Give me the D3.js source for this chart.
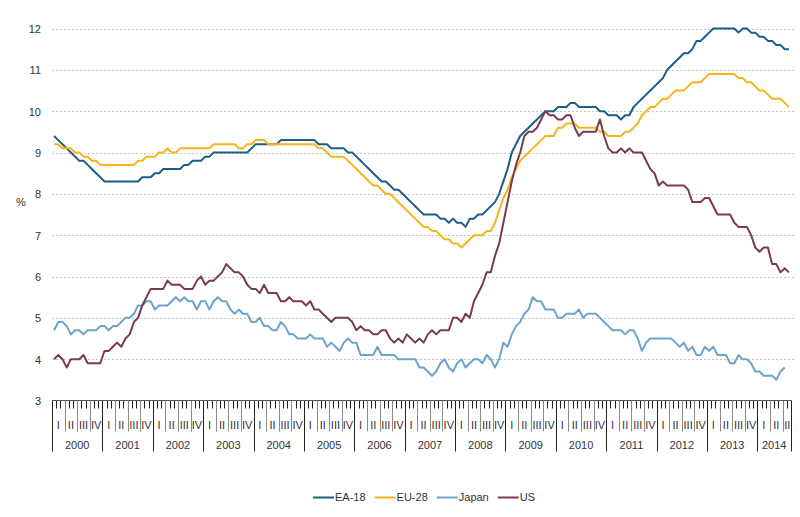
<!DOCTYPE html>
<html>
<head>
<meta charset="utf-8">
<script src="https://cdnjs.cloudflare.com/ajax/libs/d3/7.8.5/d3.min.js"></script>
<style>
  body { margin: 0; background: #fff; }
  svg { font-family: "Liberation Sans", Arial, sans-serif; }
  .grid line { stroke: #c4c4c4; stroke-dasharray: 2,2; }
  .axisLabel { font-size: 11px; fill: #333; }
  .series { fill: none; stroke-width: 2; stroke-linejoin: round; }
</style>
</head>
<body>
<script>

// Monthly unemployment rates, seasonally adjusted, Jan 2000 onwards (%)
var years = ["2000","2001","2002","2003","2004","2005","2006","2007","2008","2009","2010","2011","2012","2013","2014"];
var quarters = ["I","II","III","IV"];
var monthsShown = 176; // Jan 2000 - Aug 2014

var ea18 = [
  9.4,9.3,9.2,9.1,9.0,8.9,8.8,8.8,8.7,8.6,8.5,8.4,
  8.3,8.3,8.3,8.3,8.3,8.3,8.3,8.3,8.3,8.4,8.4,8.4,
  8.5,8.5,8.6,8.6,8.6,8.6,8.6,8.7,8.7,8.8,8.8,8.8,
  8.9,8.9,9.0,9.0,9.0,9.0,9.0,9.0,9.0,9.0,9.0,9.1,
  9.2,9.2,9.2,9.2,9.2,9.2,9.3,9.3,9.3,9.3,9.3,9.3,
  9.3,9.3,9.3,9.2,9.2,9.2,9.1,9.1,9.1,9.1,9.0,9.0,
  8.9,8.8,8.7,8.6,8.5,8.4,8.3,8.3,8.2,8.1,8.1,8.0,
  7.9,7.8,7.7,7.6,7.5,7.5,7.5,7.5,7.4,7.4,7.3,7.4,
  7.3,7.3,7.2,7.4,7.4,7.5,7.5,7.6,7.7,7.8,8.0,8.3,
  8.6,9.0,9.2,9.4,9.5,9.6,9.7,9.8,9.9,10.0,10.0,10.0,
  10.1,10.1,10.1,10.2,10.2,10.1,10.1,10.1,10.1,10.1,10.0,10.0,
  9.9,9.9,9.9,9.8,9.9,9.9,10.1,10.2,10.3,10.4,10.5,10.6,
  10.7,10.8,11.0,11.1,11.2,11.3,11.4,11.4,11.5,11.7,11.7,11.8,
  11.9,12.0,12.0,12.0,12.0,12.0,12.0,11.9,12.0,12.0,11.9,11.9,
  11.8,11.8,11.7,11.7,11.6,11.6,11.5,11.5
];

var eu28 = [
  9.2,9.2,9.1,9.1,9.1,9.0,9.0,8.9,8.9,8.8,8.8,8.7,
  8.7,8.7,8.7,8.7,8.7,8.7,8.7,8.7,8.8,8.8,8.9,8.9,
  8.9,9.0,9.0,9.1,9.0,9.0,9.1,9.1,9.1,9.1,9.1,9.1,
  9.1,9.1,9.2,9.2,9.2,9.2,9.2,9.2,9.1,9.1,9.2,9.2,
  9.3,9.3,9.3,9.2,9.2,9.2,9.2,9.2,9.2,9.2,9.2,9.2,
  9.2,9.2,9.2,9.1,9.1,9.0,8.9,8.9,8.9,8.9,8.8,8.7,
  8.6,8.5,8.4,8.3,8.2,8.2,8.1,8.0,8.0,7.9,7.8,7.7,
  7.6,7.5,7.4,7.3,7.2,7.2,7.1,7.1,7.0,6.9,6.9,6.8,
  6.8,6.7,6.8,6.9,7.0,7.0,7.0,7.1,7.1,7.3,7.6,7.9,
  8.1,8.4,8.6,8.8,8.9,9.0,9.1,9.2,9.3,9.4,9.4,9.4,
  9.6,9.6,9.7,9.7,9.7,9.6,9.6,9.6,9.6,9.6,9.5,9.5,
  9.4,9.4,9.4,9.4,9.5,9.5,9.6,9.7,9.9,10.0,10.1,10.1,
  10.2,10.3,10.3,10.4,10.5,10.5,10.5,10.6,10.7,10.7,10.7,10.8,
  10.9,10.9,10.9,10.9,10.9,10.9,10.9,10.8,10.8,10.7,10.7,10.6,
  10.5,10.5,10.4,10.3,10.3,10.3,10.2,10.1
];

var japan = [
  4.7,4.9,4.9,4.8,4.6,4.7,4.7,4.6,4.7,4.7,4.7,4.8,
  4.8,4.7,4.8,4.8,4.9,5.0,5.0,5.1,5.3,5.3,5.4,5.4,
  5.2,5.3,5.3,5.3,5.4,5.5,5.4,5.5,5.4,5.4,5.2,5.4,
  5.4,5.2,5.4,5.5,5.4,5.4,5.2,5.1,5.2,5.1,5.1,4.9,
  4.9,5.0,4.8,4.8,4.7,4.7,4.9,4.8,4.6,4.6,4.5,4.5,
  4.5,4.6,4.5,4.5,4.5,4.3,4.4,4.3,4.2,4.4,4.5,4.4,
  4.4,4.1,4.1,4.1,4.1,4.3,4.1,4.1,4.1,4.1,4.0,4.0,
  4.0,4.0,4.0,3.8,3.8,3.7,3.6,3.7,3.9,4.0,3.8,3.7,
  3.9,4.0,3.8,3.9,4.0,4.0,3.9,4.1,4.0,3.8,4.0,4.4,
  4.3,4.6,4.8,4.9,5.1,5.2,5.5,5.4,5.4,5.2,5.2,5.2,
  5.0,5.0,5.1,5.1,5.1,5.2,5.0,5.1,5.1,5.1,5.0,4.9,
  4.8,4.7,4.7,4.7,4.6,4.7,4.7,4.5,4.2,4.4,4.5,4.5,
  4.5,4.5,4.5,4.5,4.4,4.3,4.4,4.2,4.3,4.1,4.1,4.3,
  4.2,4.3,4.1,4.1,4.1,3.9,3.9,4.1,4.0,4.0,3.9,3.7,
  3.7,3.6,3.6,3.6,3.5,3.7,3.8
];

var us = [
  4.0,4.1,4.0,3.8,4.0,4.0,4.0,4.1,3.9,3.9,3.9,3.9,
  4.2,4.2,4.3,4.4,4.3,4.5,4.6,4.9,5.0,5.3,5.5,5.7,
  5.7,5.7,5.7,5.9,5.8,5.8,5.8,5.7,5.7,5.7,5.9,6.0,
  5.8,5.9,5.9,6.0,6.1,6.3,6.2,6.1,6.1,6.0,5.8,5.7,
  5.7,5.6,5.8,5.6,5.6,5.6,5.4,5.4,5.5,5.4,5.4,5.4,
  5.3,5.4,5.2,5.2,5.1,5.0,4.9,5.0,5.0,5.0,5.0,4.9,
  4.7,4.8,4.7,4.7,4.6,4.6,4.7,4.7,4.5,4.4,4.5,4.4,
  4.6,4.5,4.4,4.5,4.4,4.6,4.7,4.6,4.7,4.7,4.7,5.0,
  5.0,4.9,5.1,5.0,5.4,5.6,5.8,6.1,6.1,6.5,6.8,7.3,
  7.8,8.3,8.7,9.0,9.4,9.5,9.5,9.6,9.8,10.0,9.9,9.9,
  9.8,9.8,9.9,9.9,9.6,9.4,9.5,9.5,9.5,9.5,9.8,9.4,
  9.1,9.0,9.0,9.1,9.0,9.1,9.0,9.0,9.0,8.8,8.6,8.5,
  8.2,8.3,8.2,8.2,8.2,8.2,8.2,8.1,7.8,7.8,7.8,7.9,
  7.9,7.7,7.5,7.5,7.5,7.5,7.3,7.2,7.2,7.2,7.0,6.7,
  6.6,6.7,6.7,6.3,6.3,6.1,6.2,6.1
];

var seriesNames = ["EA-18","EU-28","Japan","US"];
var seriesValues = [ea18, eu28, japan, us];
var seriesColors = ["#1b5e8a","#f7b51b","#6ca4cb","#7a3b51"];

var yTicks = [3,4,5,6,7,8,9,10,11,12];

/************************************************************************************************************/

var svg = d3.select("body").append("svg").attr("width", 800).attr("height", 517);

svg.margin = {left: 52, top: 28.5, axis: 400.5};
svg.width = 739;

svg.x = d3.scaleLinear().domain([0, monthsShown]).range([svg.margin.left, svg.margin.left + svg.width]);
svg.y = d3.scaleLinear().domain([3, 12]).range([svg.margin.axis, svg.margin.top]);

/************************************************************************************************************/

function drawGrid(svg){

  svg.grid = svg.append("g").attr("class", "grid");

  svg.grid.selectAll("line").data(yTicks.slice(1)).enter().append("line")
    .attr("x1", svg.margin.left)
    .attr("x2", svg.margin.left + svg.width + 3)
    .attr("y1", function(d){return Math.round(svg.y(d)) + 0.5;})
    .attr("y2", function(d){return Math.round(svg.y(d)) + 0.5;});

  var axisy = svg.append("g").attr("transform", "translate(" + (svg.margin.left - 11) + ",0)");
  axisy.call(d3.axisLeft(svg.y).tickValues(yTicks).tickSize(0).tickPadding(0));
  axisy.select(".domain").remove();
  axisy.selectAll("text").attr("class", "axisLabel").attr("font-size", null).attr("fill", null)
    .attr("font-family", null).attr("dy", "0.35em");
  axisy.attr("font-family", null).attr("font-size", null);

  svg.append("text")
    .attr("class", "axisLabel")
    .attr("x", 21)
    .attr("y", 206)
    .attr("text-anchor", "middle")
    .text("%");
}

/************************************************************************************************************/

function drawAxisX(svg){

  var axis = svg.append("g").attr("class", "axisx");
  var base = svg.margin.axis;
  var right = svg.margin.left + svg.width;

  svg.append("clipPath").attr("id", "axisClip").append("rect")
    .attr("x", 0).attr("y", base).attr("width", right + 0.5).attr("height", 60);

  // month ticks
  axis.selectAll(".month").data(d3.range(1, monthsShown)).enter().append("line")
    .attr("class", "month")
    .attr("x1", function(d){return Math.round(svg.x(d)) + 0.5;})
    .attr("x2", function(d){return Math.round(svg.x(d)) + 0.5;})
    .attr("y1", base).attr("y2", base + 8)
    .attr("stroke", "#222");

  // quarter ticks
  var qTicks = d3.range(3, monthsShown, 3).filter(function(d){return d % 12 !== 0;});
  axis.selectAll(".quarter").data(qTicks).enter().append("line")
    .attr("class", "quarter")
    .attr("x1", function(d){return Math.round(svg.x(d)) + 0.5;})
    .attr("x2", function(d){return Math.round(svg.x(d)) + 0.5;})
    .attr("y1", base).attr("y2", base + 31)
    .attr("stroke", "#8a8a8a");

  // year ticks
  var yTicksX = d3.range(0, monthsShown + 1, 12).concat([monthsShown]);
  axis.selectAll(".year").data(yTicksX).enter().append("line")
    .attr("class", "year")
    .attr("x1", function(d){return Math.round(svg.x(d)) + 0.5;})
    .attr("x2", function(d){return Math.round(svg.x(d)) + 0.5;})
    .attr("y1", base).attr("y2", base + 51)
    .attr("stroke", "#222");

  // quarter labels
  var qLabels = [];
  years.forEach(function(yr, i){
    quarters.forEach(function(q, j){
      if(i*12 + j*3 < monthsShown) qLabels.push({m: i*12 + j*3 + 1.5, t: q});
    });
  });

  axis.append("g").attr("clip-path", "url(#axisClip)")
    .selectAll("text").data(qLabels).enter().append("text")
    .attr("class", "axisLabel")
    .attr("x", function(d){return svg.x(d.m);})
    .attr("y", base + 28)
    .attr("text-anchor", "middle")
    .text(function(d){return d.t;});

  // year labels
  axis.selectAll(".yearLabel").data(years).enter().append("text")
    .attr("class", "axisLabel yearLabel")
    .attr("x", function(d, i){return svg.x(Math.min(i*12 + 6, (i*12 + monthsShown)/2));})
    .attr("y", base + 48)
    .attr("text-anchor", "middle")
    .text(function(d){return d;});

  // axis line
  axis.append("line")
    .attr("x1", svg.margin.left).attr("x2", right + 0.5)
    .attr("y1", base).attr("y2", base)
    .attr("stroke", "#555");
}

/************************************************************************************************************/

function drawLines(svg){

  var line = d3.line()
    .x(function(d, i){return svg.x(i + 0.5);})
    .y(function(d){return svg.y(d);});

  svg.append("g").selectAll("path").data(seriesValues).enter().append("path")
    .attr("class", "series")
    .attr("stroke", function(d, i){return seriesColors[i];})
    .attr("d", line);
}

/************************************************************************************************************/

function drawLegend(svg){

  var legend = svg.append("g").attr("transform", "translate(313,497.5)");
  var offset = 0;

  seriesNames.forEach(function(name, i){
    var g = legend.append("g").attr("transform", "translate(" + offset + ",0)");
    g.append("line").attr("x1", 0).attr("x2", 21).attr("y1", 0).attr("y2", 0)
      .attr("stroke", seriesColors[i]).attr("stroke-width", 2);
    var t = g.append("text").attr("class", "axisLabel")
      .attr("x", 22).attr("dy", "0.35em").text(name);
    offset += 22 + t.node().getComputedTextLength() + 9;
  });
}

drawGrid(svg);
drawLines(svg);
drawAxisX(svg);
drawLegend(svg);

</script>
</body>
</html>
